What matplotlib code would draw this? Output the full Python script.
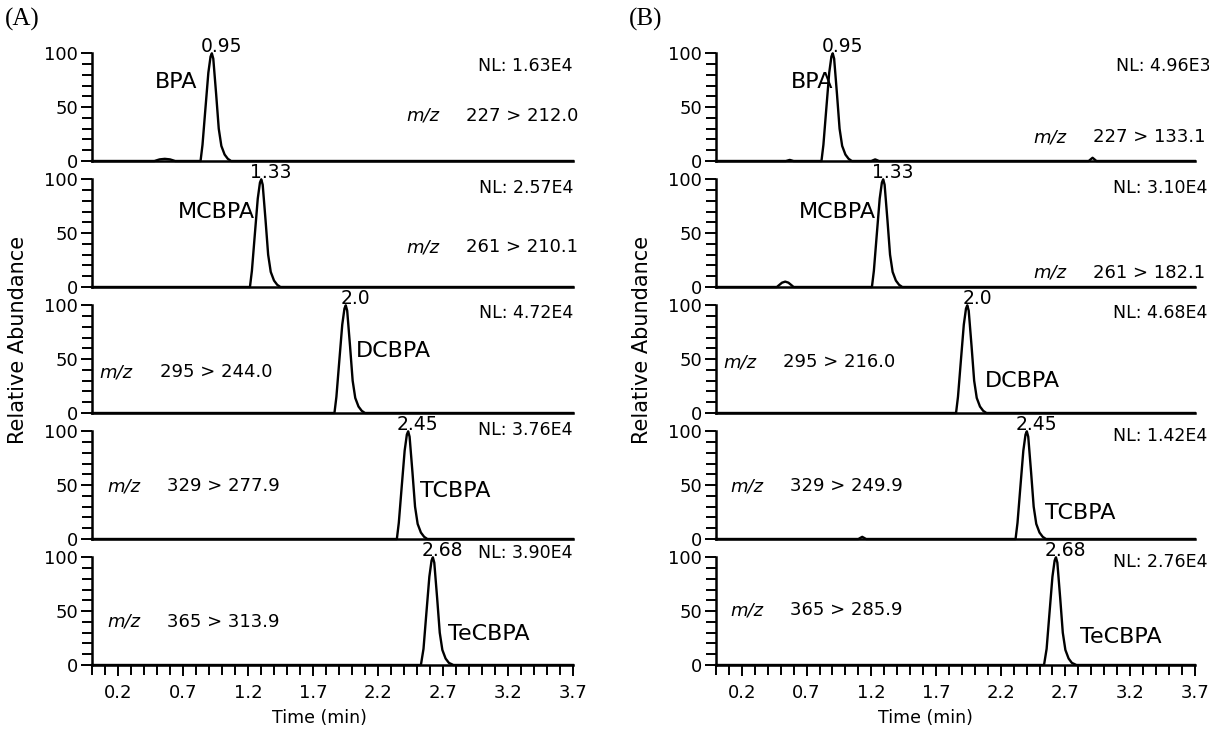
import matplotlib
matplotlib.use("Agg")
import matplotlib.pyplot as plt
from matplotlib.ticker import FixedLocator, MultipleLocator

plt.rcParams['font.family'] = ['DejaVu Sans']

# ---------------- data ----------------
x_ticks = [0.2, 0.7, 1.2, 1.7, 2.2, 2.7, 3.2, 3.7]
x_tick_labels = ["0.2", "0.7", "1.2", "1.7", "2.2", "2.7", "3.2", "3.7"]
y_ticks = [0, 50, 100]

compounds = ["BPA", "MCBPA", "DCBPA", "TCBPA", "TeCBPA"]
rt_labels = ["0.95", "1.33", "2.0", "2.45", "2.68"]

# Panel A traces
A_BPA_t = [0.00, 0.48, 0.52, 0.56, 0.60, 0.64, 0.835, 0.85, 0.87, 0.895, 0.912, 0.922, 0.933, 0.955, 0.975, 0.995, 1.02, 1.045, 1.07, 3.70]
A_BPA_y = [0, 0, 1.5, 2, 1.5, 0, 0, 15, 45, 82, 97, 100, 95, 62, 30, 14, 6, 2, 0, 0]
A_MCBPA_t = [0.00, 1.215, 1.23, 1.25, 1.275, 1.292, 1.302, 1.313, 1.335, 1.355, 1.375, 1.40, 1.425, 1.45, 3.70]
A_MCBPA_y = [0, 0, 15, 45, 82, 97, 100, 95, 62, 30, 14, 6, 2, 0, 0]
A_DCBPA_t = [0.00, 1.865, 1.88, 1.90, 1.925, 1.942, 1.952, 1.963, 1.985, 2.005, 2.025, 2.05, 2.075, 2.10, 3.70]
A_DCBPA_y = [0, 0, 15, 45, 82, 97, 100, 95, 62, 30, 14, 6, 2, 0, 0]
A_TCBPA_t = [0.00, 2.345, 2.36, 2.38, 2.405, 2.422, 2.432, 2.443, 2.465, 2.485, 2.505, 2.53, 2.555, 2.58, 3.70]
A_TCBPA_y = [0, 0, 15, 45, 82, 97, 100, 95, 62, 30, 14, 6, 2, 0, 0]
A_TeCBPA_t = [0.00, 2.53, 2.55, 2.57, 2.595, 2.612, 2.622, 2.633, 2.655, 2.675, 2.695, 2.72, 2.745, 2.78, 3.70]
A_TeCBPA_y = [0, 0, 15, 45, 82, 97, 100, 95, 62, 30, 14, 6, 2, 0, 0]

# Panel B traces
B_BPA_t = [0.00, 0.54, 0.57, 0.60, 0.815, 0.83, 0.85, 0.875, 0.892, 0.902, 0.913, 0.935, 0.955, 0.975, 1.00, 1.025, 1.05, 1.20, 1.23, 1.26, 2.88, 2.91, 2.94, 3.70]
B_BPA_y = [0, 0, 1, 0, 0, 15, 45, 82, 97, 100, 95, 62, 30, 14, 6, 2, 0, 0, 1.5, 0, 0, 3, 0, 0]
B_MCBPA_t = [0.00, 0.47, 0.51, 0.535, 0.56, 0.60, 1.205, 1.22, 1.24, 1.265, 1.282, 1.292, 1.303, 1.325, 1.345, 1.365, 1.39, 1.415, 1.44, 3.70]
B_MCBPA_y = [0, 0, 4, 5, 4, 0, 0, 15, 45, 82, 97, 100, 95, 62, 30, 14, 6, 2, 0, 0]
B_DCBPA_t = [0.00, 1.855, 1.87, 1.89, 1.915, 1.932, 1.942, 1.953, 1.975, 1.995, 2.015, 2.04, 2.065, 2.09, 3.70]
B_DCBPA_y = [0, 0, 15, 45, 82, 97, 100, 95, 62, 30, 14, 6, 2, 0, 0]
B_TCBPA_t = [0.00, 1.10, 1.13, 1.16, 2.315, 2.33, 2.35, 2.375, 2.392, 2.402, 2.413, 2.435, 2.455, 2.475, 2.50, 2.525, 2.55, 3.70]
B_TCBPA_y = [0, 0, 2, 0, 0, 15, 45, 82, 97, 100, 95, 62, 30, 14, 6, 2, 0, 0]
B_TeCBPA_t = [0.00, 2.535, 2.555, 2.575, 2.60, 2.617, 2.627, 2.638, 2.66, 2.68, 2.70, 2.725, 2.75, 2.785, 3.70]
B_TeCBPA_y = [0, 0, 15, 45, 82, 97, 100, 95, 62, 30, 14, 6, 2, 0, 0]

A_nl = ["NL: 1.63E4", "NL: 2.57E4", "NL: 4.72E4", "NL: 3.76E4", "NL: 3.90E4"]
A_mz = ["227 > 212.0", "261 > 210.1", "295 > 244.0", "329 > 277.9", "365 > 313.9"]
B_nl = ["NL: 4.96E3", "NL: 3.10E4", "NL: 4.68E4", "NL: 1.42E4", "NL: 2.76E4"]
B_mz = ["227 > 133.1", "261 > 182.1", "295 > 216.0", "329 > 249.9", "365 > 285.9"]

# ---------------- layout ----------------
W, H = 1209, 731
fig = plt.figure(figsize=(W / 100, H / 100), dpi=100)

row_h_px = 126
baselines_px = [161 + row_h_px * i for i in range(5)]
YMAX = 117

panels = {
    "A": dict(left=92, pxu=130.0,
              traces=[(A_BPA_t, A_BPA_y), (A_MCBPA_t, A_MCBPA_y), (A_DCBPA_t, A_DCBPA_y),
                      (A_TCBPA_t, A_TCBPA_y), (A_TeCBPA_t, A_TeCBPA_y)],
              nl=A_nl, mz=A_mz,
              cmp=[(0.65, 73, 'center'), (0.96, 70, 'center'), (2.03, 58, 'left'),
                   (2.52, 45, 'left'), (2.74, 29, 'left')],
              nlpos=[(3.70, 88), (3.70, 92), (3.70, 93), (3.70, 101), (3.70, 104)],
              mzpos=[(2.42, 42), (2.42, 37), (0.06, 38), (0.115, 49), (0.115, 40)],
              tx=1.75),
    "B": dict(left=716, pxu=129.4,
              traces=[(B_BPA_t, B_BPA_y), (B_MCBPA_t, B_MCBPA_y), (B_DCBPA_t, B_DCBPA_y),
                      (B_TCBPA_t, B_TCBPA_y), (B_TeCBPA_t, B_TeCBPA_y)],
              nl=B_nl, mz=B_mz,
              cmp=[(0.74, 73, 'center'), (0.935, 70, 'center'), (2.08, 30, 'left'),
                   (2.54, 24, 'left'), (2.81, 26, 'left')],
              nlpos=[(3.82, 88), (3.80, 92), (3.80, 93), (3.80, 96), (3.80, 96)],
              mzpos=[(2.45, 22), (2.45, 13), (0.06, 47), (0.11, 49), (0.11, 51)],
              tx=1.62),
}

rt_offset_pts = 7

for pname, p in panels.items():
    for i in range(5):
        b = baselines_px[i]
        ax = fig.add_axes([p["left"] / W, 1 - b / H, 3.7 * p["pxu"] / W, row_h_px / H])
        t, y = p["traces"][i]
        ax.plot(t, y, color='black', lw=1.7, clip_on=False, zorder=3,
                solid_joinstyle='round')
        ax.set_xlim(0, 3.7)
        ax.set_ylim(0, YMAX)
        for s in ("top", "right"):
            ax.spines[s].set_visible(False)
        ax.spines['left'].set_bounds(0, 100)
        ax.spines['left'].set_linewidth(1.8)
        ax.spines['bottom'].set_linewidth(1.8)
        ax.patch.set_visible(False)
        ax.yaxis.set_major_locator(FixedLocator(y_ticks))
        ax.yaxis.set_minor_locator(FixedLocator([10, 20, 30, 40, 60, 70, 80, 90]))
        ax.tick_params(axis='y', which='major', direction='out', length=8, width=1.4,
                       labelsize=13, pad=2)
        ax.tick_params(axis='y', which='minor', direction='out', length=7, width=1.4)
        if i < 4:
            ax.tick_params(axis='x', which='both', bottom=False, labelbottom=False)
        else:
            ax.xaxis.set_major_locator(FixedLocator(x_ticks))
            ax.set_xticklabels(x_tick_labels)
            ax.xaxis.set_minor_locator(MultipleLocator(0.1))
            ax.tick_params(axis='x', which='major', direction='out', length=8, width=1.4,
                           labelsize=13, pad=6)
            ax.tick_params(axis='x', which='minor', direction='out', length=7, width=1.4)
        # retention time label at apex
        ti = int(max(range(len(y)), key=lambda k: y[k]))
        ax.annotate(rt_labels[i], xy=(t[ti], y[ti]), xytext=(rt_offset_pts, -2),
                    textcoords='offset points', ha='center', va='bottom', fontsize=13.5)
        cx, cy, cha = p["cmp"][i]
        ax.text(cx, cy, compounds[i], ha=cha, va='center', fontsize=16)
        nx, ny = p["nl"][i], p["nlpos"][i]
        ax.text(ny[0], ny[1], nx, ha='right', va='center', fontsize=12.5, clip_on=False)
        mx, my = p["mzpos"][i]
        ax.text(mx, my, "m/z", ha='left', va='center', fontsize=13, style='italic')
        ax.annotate(p["mz"][i], xy=(mx, my), xytext=(43, 0), textcoords='offset points',
                    ha='left', va='center', fontsize=13, annotation_clip=False)
    # axis labels
    x_center = (p["left"] + p["tx"] * p["pxu"]) / W
    fig.text(x_center, 1 - 718 / H, "Time (min)", ha='center', va='center', fontsize=12.5)
    fig.text((p["left"] - 74) / W, 1 - 340 / H, "Relative Abundance", rotation=90,
             ha='center', va='center', fontsize=15)
    fig.text((p["left"] - 87) / W, 1 - 19 / H, "(" + pname + ")", ha='left', va='center',
             fontsize=18, family='Liberation Serif')

fig.savefig("out.png", dpi=100)
